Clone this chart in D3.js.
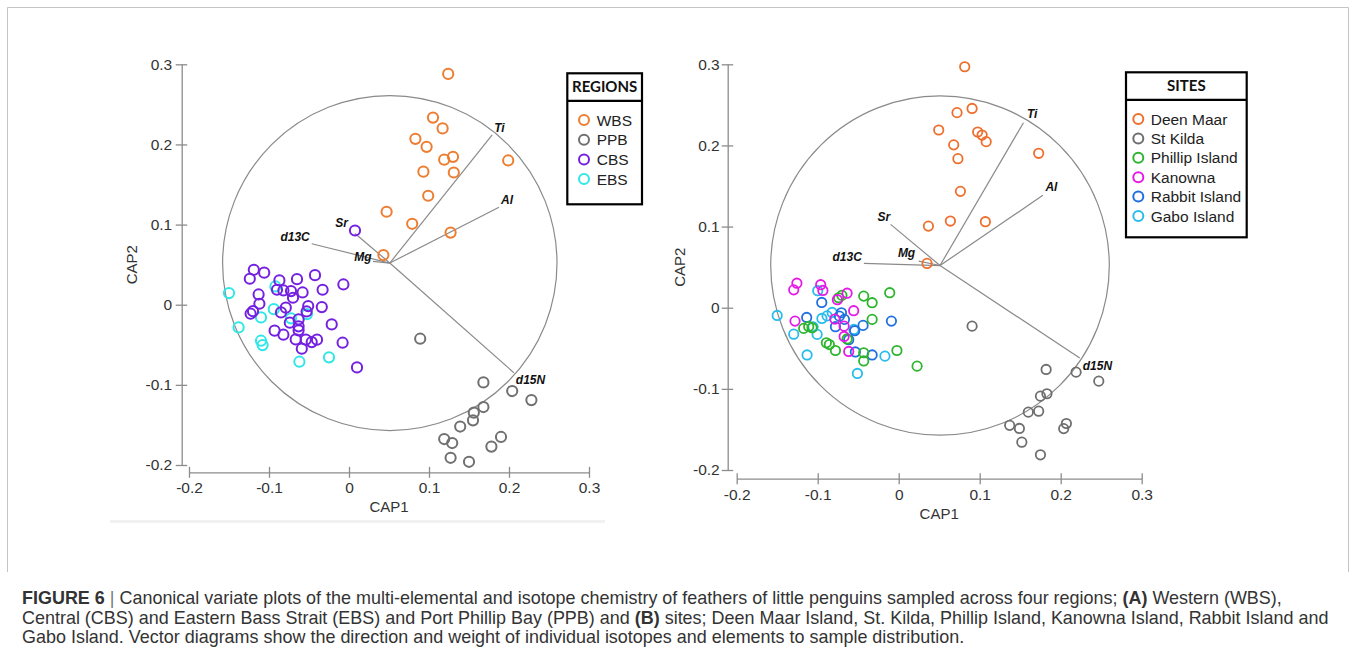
<!DOCTYPE html>
<html lang="en">
<head>
<meta charset="UTF-8" />
<title>Figure 6 - CAP plots</title>
<script src="https://d3js.org/d3.v7.min.js"></script>
<style>
  body { margin: 0; background: #fff; }
  svg text { font-family: "Liberation Sans", Arial, sans-serif; }
  .tick text { font-size: 15.5px; fill: #333; }
  .axis-title { font-size: 15px; fill: #333; }
  .vec-label { font-size: 12px; font-weight: bold; font-style: italic; fill: #111; }
  .legend-title { font-family: "Lato", "Liberation Sans", sans-serif; font-size: 15px; font-weight: bold; fill: #111; }
  .legend-item { font-size: 15.5px; fill: #222; }
  .caption { font-family: "Liberation Sans Narrow", "Liberation Sans", sans-serif; font-size: 18px; fill: #333; white-space: pre; }
</style>
</head>
<body>
<svg id="fig" width="1356" height="647"></svg>
<script>
// ---- data ----
const capTicks = [-0.2, -0.1, 0, 0.1, 0.2, 0.3];
const tickLabels = ["-0.2", "-0.1", "0", "0.1", "0.2", "0.3"];

const regionNames = ["WBS", "PPB", "CBS", "EBS"];
const siteNames = ["Deen Maar", "St Kilda", "Phillip Island", "Kanowna", "Rabbit Island", "Gabo Island"];

// panel A: regions
const wbs = [[0.124,0.288],[0.105,0.2335],[0.117,0.220],[0.083,0.207],[0.097,0.197],[0.119,0.181],
  [0.130,0.1845],[0.199,0.180],[0.093,0.166],[0.131,0.165],[0.099,0.136],[0.047,0.116],
  [0.079,0.101],[0.127,0.090],[0.043,0.062]];
const ppb = [[0.089,-0.0424],[0.168,-0.0969],[0.204,-0.1077],[0.228,-0.119],[0.168,-0.1277],
  [0.156,-0.1347],[0.155,-0.1443],[0.139,-0.152],[0.119,-0.1676],[0.129,-0.1726],[0.190,-0.165],
  [0.178,-0.177],[0.127,-0.191],[0.150,-0.196]];
const cbs = [[-0.119,0.0436],[-0.106,0.040],[-0.124,0.0324],[-0.087,0.0303],[-0.065,0.0319],
  [-0.0425,0.0369],[-0.007,0.0253],[-0.090,0.0187],[-0.082,0.0178],[-0.0725,0.017],[-0.058,0.0153],
  [-0.033,0.0187],[-0.113,0.0128],[-0.070,0.0087],[-0.112,0.0012],[-0.079,-0.0037],[-0.051,-0.0017],
  [-0.034,-0.003],[-0.053,-0.0084],[-0.085,-0.0096],[-0.120,-0.008],[-0.123,-0.0112],[-0.063,-0.0183],
  [-0.074,-0.0224],[-0.0216,-0.0246],[-0.063,-0.027],[-0.063,-0.032],[-0.093,-0.0324],[-0.082,-0.0374],
  [-0.0666,-0.0433],[-0.054,-0.0436],[-0.040,-0.0436],[-0.0466,-0.0466],[-0.008,-0.0474],
  [-0.059,-0.0549],[0.010,-0.0782],[0.0075,0.0926]];
const ebs = [[-0.150,0.0145],[-0.092,0.0228],[-0.094,-0.0055],[-0.110,-0.0158],[-0.138,-0.0283],
  [-0.0725,-0.017],[-0.0525,-0.0117],[-0.110,-0.0449],[-0.108,-0.0504],[-0.062,-0.0711],[-0.025,-0.0657]];

// panel B: sites
const deenMaar = [[0.0815,0.297],[0.072,0.2404],[0.0906,0.2456],[0.0494,0.219],[0.0975,0.2165],
  [0.103,0.2128],[0.108,0.2047],[0.0679,0.2007],[0.0731,0.1837],[0.1728,0.1903],[0.0762,0.1434],
  [0.107,0.106],[0.0638,0.1068],[0.0367,0.1006],[0.035,0.0546]];
const stKilda = [[0.0906,-0.0227],[0.182,-0.0761],[0.219,-0.0794],[0.247,-0.0905],[0.183,-0.106],
  [0.175,-0.109],[0.1728,-0.1275],[0.160,-0.1287],[0.137,-0.145],[0.149,-0.1488],[0.207,-0.1427],
  [0.2037,-0.149],[0.152,-0.1657],[0.175,-0.1813]];
const phillipIsland = [[-0.0741,0.0123],[-0.0701,0.0152],[-0.0432,0.0143],[-0.0328,0.0062],[-0.0111,0.0185],
  [-0.0328,-0.0144],[-0.1173,-0.0255],[-0.1111,-0.0231],[-0.107,-0.0247],[-0.0893,-0.0432],
  [-0.0856,-0.0453],[-0.0781,-0.0527],[-0.0637,-0.0385],[-0.0432,-0.0555],[-0.0432,-0.0656],
  [-0.0022,-0.0527],[0.0227,-0.072]];
const kanowna = [[-0.1257,0.0302],[-0.1296,0.022],[-0.0963,0.0284],[-0.0936,0.0213],[-0.0637,0.0179],
  [-0.0757,0.0099],[-0.0556,-0.0037],[-0.128,-0.0165],[-0.0788,-0.014],[-0.0674,-0.0227],
  [-0.0674,-0.0354],[-0.0617,-0.0539]];
const rabbitIsland = [[-0.095,0.0065],[-0.1136,-0.012],[-0.0707,-0.0062],[-0.0732,-0.0104],
  [-0.0781,-0.0234],[-0.044,-0.0218],[-0.009,-0.0165],[-0.0543,-0.0284],[-0.0617,-0.0395],
  [-0.0535,-0.0545],[-0.0328,-0.0582],[-0.067,-0.0144]];
const gaboIsland = [[-0.150,-0.0095],[-0.100,0.021],[-0.0948,-0.0132],[-0.0884,-0.0101],[-0.0822,-0.0058],
  [-0.1296,-0.0326],[-0.1007,-0.0329],[-0.1057,-0.0237],[-0.0553,-0.0268],[-0.1131,-0.0582],
  [-0.051,-0.081],[-0.017,-0.0597]];

// vector overlay: origin, correlation circle radius, vector end points
const vectorOrigin = [0.051, 0.052];
const circleRadius = 0.209;
const vectorsA = [
  { name: "Ti", x: 0.179, y: 0.212 },
  { name: "Al", x: 0.1875, y: 0.1217 },
  { name: "Sr", x: 0.0075, y: 0.0889 },
  { name: "Mg", x: 0.030, y: 0.054 },
  { name: "d13C", x: -0.0466, y: 0.0761 },
  { name: "d15N", x: 0.206, y: -0.0848 }
];
const vectorsB = [
  { name: "Ti", x: 0.154, y: 0.228 },
  { name: "Al", x: 0.178, y: 0.1385 },
  { name: "Sr", x: -0.010, y: 0.1027 },
  { name: "Mg", x: 0.0247, y: 0.0575 },
  { name: "d13C", x: -0.043, y: 0.0546 },
  { name: "d15N", x: 0.2235, y: -0.062 }
];

// ---- styles / layout ----
const regionColors = ["#ED7D31", "#707070", "#7420E0", "#30E6E6"];
const siteColors = ["#EE6E2C", "#6E6E6E", "#2DB52D", "#E619E6", "#1F6FE0", "#27BCEB"];

const labelOffsetsA = {
  Ti: ["start", 2, -3], Al: ["start", 2, -3.5], d15N: ["start", 2, 11],
  Sr: ["end", -7, -6], d13C: ["end", -2, -2.5], Mg: ["end", -1.5, 0]
};
const labelOffsetsB = {
  Ti: ["start", 3.5, -5], Al: ["start", 2.5, -4.5], d15N: ["start", 3, 11.5],
  Sr: ["end", -0.5, -3.5], d13C: ["end", -2, -2.5], Mg: ["end", -3.5, -4.5]
};

const panels = [
  {
    xRange: [189, 589], yRange: [465, 64.3], xAxisY: 472.3, yAxisX: 181.7,
    xPad: 4, yPad: 3.5, xTitleY: 512, yTitleX: 137,
    series: [wbs, ppb, ebs, cbs], seriesColors: [regionColors[0], regionColors[1], regionColors[3], regionColors[2]],
    markerR: 5.1, markerW: 2,
    vectors: vectorsA, labelOffsets: labelOffsetsA,
    legend: { title: "REGIONS", names: regionNames, colors: regionColors,
      x: 567.3, y: 73.3, w: 74.7, h: 131, cx: 584, tx: 596.7, y0: 120, dy: 19.7 }
  },
  {
    xRange: [736.7, 1141.7], yRange: [470, 64.3], xAxisY: 478.7, yAxisX: 727.7,
    xPad: 5, yPad: 2, xTitleY: 519, yTitleX: 685,
    series: [stKilda, deenMaar, gaboIsland, rabbitIsland, phillipIsland, kanowna],
    seriesColors: [siteColors[1], siteColors[0], siteColors[5], siteColors[4], siteColors[2], siteColors[3]],
    markerR: 4.7, markerW: 1.8,
    vectors: vectorsB, labelOffsets: labelOffsetsB,
    legend: { title: "SITES", names: siteNames, colors: siteColors,
      x: 1126, y: 72.3, w: 120.7, h: 165, cx: 1138.3, tx: 1150.7, y0: 119, dy: 19.4 }
  }
];

const svg = d3.select("#fig");

// figure frame
svg.append("path")
  .attr("d", "M7.5,572 V7.5 H1348.5 V572")
  .attr("fill", "none")
  .attr("stroke", "#c4c4c4")
  .attr("stroke-width", 1);

svg.append("rect")
  .attr("x", 110).attr("y", 520).attr("width", 495).attr("height", 3)
  .attr("fill", "#f1f1f1");

const fmt = (d) => tickLabels[capTicks.indexOf(d)];

panels.forEach((p) => {
  const x = d3.scaleLinear().domain([-0.2, 0.3]).range(p.xRange);
  const y = d3.scaleLinear().domain([-0.2, 0.3]).range(p.yRange);
  const g = svg.append("g");

  // axes
  const xAxis = g.append("g")
    .attr("class", "x-axis")
    .attr("transform", `translate(0,${p.xAxisY})`)
    .call(d3.axisBottom(x).tickValues(capTicks).tickFormat(fmt).tickSize(5.5).tickSizeOuter(0).tickPadding(p.xPad));
  const yAxis = g.append("g")
    .attr("class", "y-axis")
    .attr("transform", `translate(${p.yAxisX},0)`)
    .call(d3.axisLeft(y).tickValues(capTicks).tickFormat(fmt).tickSize(6).tickSizeOuter(0).tickPadding(p.yPad));
  xAxis.selectAll(".tick line").attr("y1", -5.5);
  yAxis.selectAll(".tick line").attr("x1", 5.5);
  [xAxis, yAxis].forEach((a) => {
    a.select(".domain").attr("stroke", "#8c8c8c").attr("stroke-width", 1.3);
    a.selectAll(".tick line").attr("stroke", "#8c8c8c").attr("stroke-width", 1.3);
    a.selectAll(".tick text").attr("font-family", null).attr("font-size", null);
  });

  g.append("text")
    .attr("class", "axis-title")
    .attr("x", (p.xRange[0] + p.xRange[1]) / 2)
    .attr("y", p.xTitleY)
    .attr("text-anchor", "middle")
    .text("CAP1");
  g.append("text")
    .attr("class", "axis-title")
    .attr("transform", `translate(${p.yTitleX},${(p.yRange[0] + p.yRange[1]) / 2}) rotate(-90)`)
    .attr("text-anchor", "middle")
    .text("CAP2");

  // correlation circle and vectors
  const ox = x(vectorOrigin[0]), oy = y(vectorOrigin[1]);
  g.append("ellipse")
    .attr("cx", ox).attr("cy", oy)
    .attr("rx", x(vectorOrigin[0] + circleRadius) - ox)
    .attr("ry", oy - y(vectorOrigin[1] + circleRadius))
    .attr("fill", "none")
    .attr("stroke", "#8a8a8a")
    .attr("stroke-width", 1.2);

  g.selectAll("line.vec")
    .data(p.vectors)
    .enter()
    .append("line")
    .attr("class", "vec")
    .attr("x1", ox).attr("y1", oy)
    .attr("x2", (d) => x(d.x))
    .attr("y2", (d) => y(d.y))
    .attr("stroke", "#8a8a8a")
    .attr("stroke-width", 1.2);

  // points
  p.series.forEach((pts, i) => {
    g.append("g")
      .selectAll("circle")
      .data(pts)
      .enter()
      .append("circle")
      .attr("cx", (d) => x(d[0]))
      .attr("cy", (d) => y(d[1]))
      .attr("r", p.markerR)
      .attr("fill", "none")
      .attr("stroke", p.seriesColors[i])
      .attr("stroke-width", p.markerW);
  });

  g.selectAll("text.vec-label")
    .data(p.vectors)
    .enter()
    .append("text")
    .attr("class", "vec-label")
    .attr("text-anchor", (d) => p.labelOffsets[d.name][0])
    .attr("x", (d) => x(d.x) + p.labelOffsets[d.name][1])
    .attr("y", (d) => y(d.y) + p.labelOffsets[d.name][2])
    .text((d) => d.name);

  // legend
  const L = p.legend;
  const lg = g.append("g");
  lg.append("rect")
    .attr("x", L.x).attr("y", L.y).attr("width", L.w).attr("height", L.h)
    .attr("fill", "#fff").attr("stroke", "#000").attr("stroke-width", 2.2);
  lg.append("line")
    .attr("x1", L.x).attr("x2", L.x + L.w)
    .attr("y1", L.y + 27.5).attr("y2", L.y + 27.5)
    .attr("stroke", "#000").attr("stroke-width", 2.2);
  lg.append("text")
    .attr("class", "legend-title")
    .attr("x", L.x + L.w / 2)
    .attr("y", L.y + 19)
    .attr("text-anchor", "middle")
    .text(L.title);
  const items = lg.selectAll("g.item")
    .data(L.names)
    .enter()
    .append("g")
    .attr("class", "item")
    .attr("transform", (d, i) => `translate(0,${L.y0 + i * L.dy})`);
  items.append("circle")
    .attr("cx", L.cx).attr("cy", 0).attr("r", 5)
    .attr("fill", "none")
    .attr("stroke", (d, i) => L.colors[i])
    .attr("stroke-width", 2);
  items.append("text")
    .attr("class", "legend-item")
    .attr("x", L.tx).attr("y", 5.6)
    .text((d) => d);
});

// caption
const captionLines = [
  [["FIGURE 6", "b"], [" | ", "sep"], ["Canonical variate plots of the multi-elemental and isotope chemistry of feathers of little penguins sampled across four regions; ", ""], ["(A)", "b"], [" Western (WBS),", ""]],
  [["Central (CBS) and Eastern Bass Strait (EBS) and Port Phillip Bay (PPB) and ", ""], ["(B)", "b"], [" sites; Deen Maar Island, St. Kilda, Phillip Island, Kanowna Island, Rabbit Island and", ""]],
  [["Gabo Island. Vector diagrams show the direction and weight of individual isotopes and elements to sample distribution.", ""]]
];
const captionY = [604, 624, 643.5];
const cap = svg.append("g");
const capTexts = captionLines.map((parts, i) => {
  const t = cap.append("text").attr("class", "caption").attr("x", 0).attr("y", captionY[i]);
  parts.forEach(([s, kind]) => {
    t.append("tspan")
      .attr("font-weight", kind === "b" ? "bold" : null)
      .attr("fill", kind === "sep" ? "#777" : null)
      .text(s);
  });
  return t;
});
const w1 = capTexts[0].node().getComputedTextLength();
const k = 1261 / w1;
cap.attr("transform", `translate(22,0) scale(${k},1)`);
</script>
</body>
</html>
